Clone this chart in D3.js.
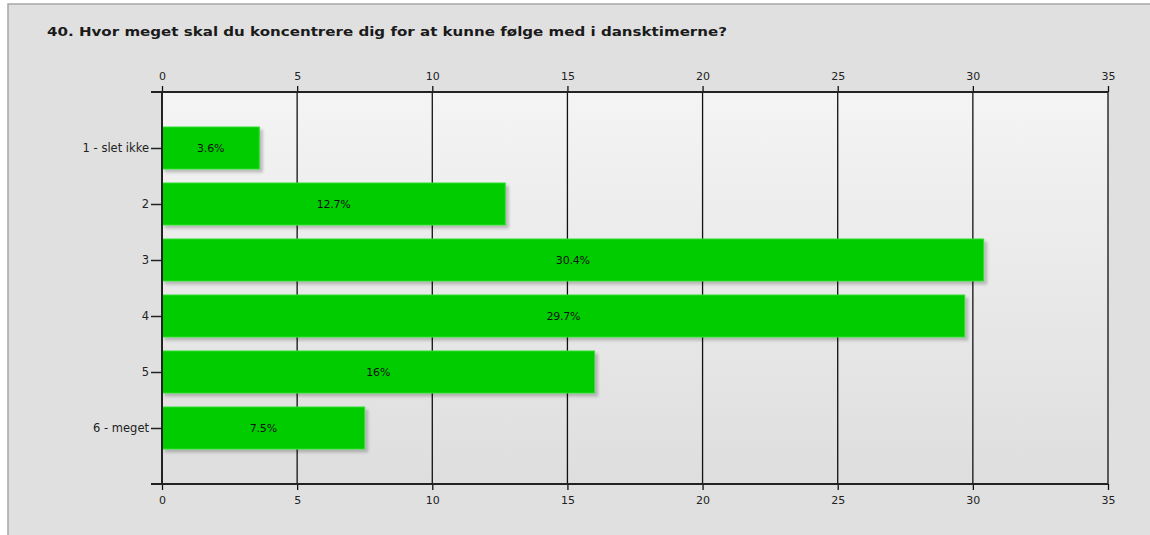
<!DOCTYPE html>
<html>
<head>
<meta charset="utf-8">
<script src="https://cdn.jsdelivr.net/npm/d3@7"></script>
<style>
  html, body { margin: 0; padding: 0; background: #ffffff; }
  svg { display: block; }
</style>
</head>
<body>
<svg id="chart" width="1150" height="535"></svg>
<script>
// Survey answers: share of respondents per answer option (percent)
const categories = ["1 - slet ikke", "2", "3", "4", "5", "6 - meget"];
const values = [3.6, 12.7, 30.4, 29.7, 16, 7.5];
const valueLabels = ["3.6%", "12.7%", "30.4%", "29.7%", "16%", "7.5%"];
const tickValues = [0, 5, 10, 15, 20, 25, 30, 35];
const title = "40. Hvor meget skal du koncentrere dig for at kunne følge med i dansktimerne?";

const svg = d3.select("#chart");
const W = 1150, H = 535;
const plot = { left: 162, right: 1108, top: 92, bottom: 484 };
const labelFont = "'DejaVu Sans', Verdana, sans-serif";

const defs = svg.append("defs");
const bgGrad = defs.append("linearGradient")
  .attr("id", "plotBg").attr("x1", 0).attr("y1", 0).attr("x2", 0).attr("y2", 1);
bgGrad.append("stop").attr("offset", "0%").attr("stop-color", "#f4f4f4");
bgGrad.append("stop").attr("offset", "100%").attr("stop-color", "#dedede");

const shadow = defs.append("filter").attr("id", "barShadow")
  .attr("x", "-5%").attr("y", "-20%").attr("width", "115%").attr("height", "150%");
shadow.append("feGaussianBlur").attr("in", "SourceAlpha").attr("stdDeviation", 1.6).attr("result", "b");
shadow.append("feOffset").attr("in", "b").attr("dx", 3).attr("dy", 3).attr("result", "o");
shadow.append("feComponentTransfer").attr("in", "o").attr("result", "s")
  .append("feFuncA").attr("type", "linear").attr("slope", 0.22);
const merge = shadow.append("feMerge");
merge.append("feMergeNode").attr("in", "s");
merge.append("feMergeNode").attr("in", "SourceGraphic");

// Outer panel
svg.append("rect").attr("x", 0).attr("y", 0).attr("width", W).attr("height", H).attr("fill", "#ffffff");
svg.append("rect").attr("x", 8).attr("y", 4).attr("width", W + 10).attr("height", H + 10)
  .attr("fill", "#e0e0e0").attr("stroke", "#a6a6a6").attr("stroke-width", 1.5);

svg.append("text")
  .attr("x", 47).attr("y", 36)
  .attr("font-family", labelFont)
  .attr("font-weight", "bold")
  .attr("font-size", 13)
  .attr("textLength", 680).attr("lengthAdjust", "spacingAndGlyphs")
  .attr("fill", "#1a1a1a")
  .text(title);

const x = d3.scaleLinear().domain([0, 35]).range([plot.left, plot.right]);
const y = d3.scalePoint().domain(categories).range([plot.top, plot.bottom]).padding(1);
const barH = 42;

// Plot background
svg.append("rect")
  .attr("x", plot.left).attr("y", plot.top)
  .attr("width", plot.right - plot.left).attr("height", plot.bottom - plot.top)
  .attr("fill", "url(#plotBg)");

// Vertical gridlines
svg.append("g").selectAll("line").data(tickValues).join("line")
  .attr("x1", d => x(d)).attr("x2", d => x(d))
  .attr("y1", plot.top).attr("y2", plot.bottom)
  .attr("stroke", "#111").attr("stroke-width", 1.3);

// Bars
svg.append("g").selectAll("rect").data(values).join("rect")
  .attr("x", x(0))
  .attr("y", (d, i) => y(categories[i]) - barH / 2)
  .attr("width", d => x(d) - x(0))
  .attr("height", barH)
  .attr("fill", "#00cc00")
  .attr("stroke", "#33dd33").attr("stroke-width", 1)
  .attr("filter", "url(#barShadow)");

// Value labels
svg.append("g").selectAll("text").data(values).join("text")
  .attr("x", d => (x(0) + x(d)) / 2)
  .attr("y", (d, i) => y(categories[i]))
  .attr("dy", "0.35em")
  .attr("text-anchor", "middle")
  .attr("font-family", labelFont)
  .attr("font-size", 11)
  .attr("letter-spacing", -0.2)
  .attr("fill", "#111")
  .text((d, i) => valueLabels[i]);

const axisFont = g => g.selectAll("text")
  .attr("font-family", labelFont)
  .attr("font-size", 11).attr("fill", "#222");

// Top axis
const topAxis = svg.append("g").attr("transform", `translate(0,${plot.top})`)
  .call(d3.axisTop(x).tickValues(tickValues).tickSize(6).tickPadding(6).tickSizeOuter(0));
topAxis.select(".domain").remove();
topAxis.selectAll("line").attr("stroke", "#111").attr("stroke-width", 1.3);
topAxis.call(axisFont);
topAxis.append("line").attr("x1", plot.left - 11).attr("x2", plot.right)
  .attr("y1", 0).attr("y2", 0).attr("stroke", "#222").attr("stroke-width", 2);

// Bottom axis
const botAxis = svg.append("g").attr("transform", `translate(0,${plot.bottom})`)
  .call(d3.axisBottom(x).tickValues(tickValues).tickSize(6).tickPadding(6).tickSizeOuter(0));
botAxis.select(".domain").remove();
botAxis.selectAll("line").attr("stroke", "#111").attr("stroke-width", 1.3);
botAxis.call(axisFont);
botAxis.append("line").attr("x1", plot.left - 11).attr("x2", plot.right)
  .attr("y1", 0).attr("y2", 0).attr("stroke", "#222").attr("stroke-width", 2);

// Left category axis
const leftAxis = svg.append("g").attr("transform", `translate(${plot.left},0)`)
  .call(d3.axisLeft(y).tickSize(11).tickPadding(2).tickSizeOuter(0));
leftAxis.select(".domain").remove();
leftAxis.selectAll("line").attr("stroke", "#222").attr("stroke-width", 1.5);
leftAxis.call(axisFont);
leftAxis.selectAll("text").attr("font-size", 11.5);
leftAxis.append("line").attr("x1", 0).attr("x2", 0)
  .attr("y1", plot.top).attr("y2", plot.bottom).attr("stroke", "#222").attr("stroke-width", 2);
</script>
</body>
</html>
